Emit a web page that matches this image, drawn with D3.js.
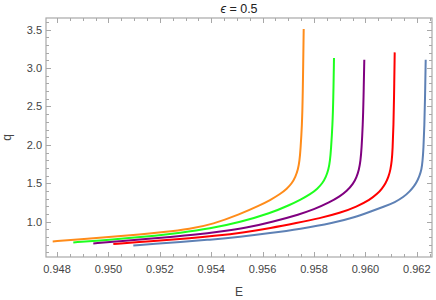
<!DOCTYPE html>
<html>
<head>
<meta charset="utf-8">
<script src="https://cdn.jsdelivr.net/npm/d3@7"></script>
<style>
  body { margin: 0; background: #fff; }
  text { font-family: "Liberation Sans", Arial, sans-serif; }
</style>
</head>
<body>
<svg id="chart"></svg>
<script>
// values, E (x) and q (y) for each curve
let orangeE = [0.947833, 0.948895, 0.950167, 0.951230, 0.952113, 0.953175, 0.954058, 0.955121, 0.955899, 0.956288, 0.956677, 0.956949, 0.957144, 0.957280, 0.957377, 0.957436, 0.957475, 0.957533, 0.957560, 0.957599];
let orangeQ = [0.7435, 0.7708, 0.8047, 0.8333, 0.8620, 0.9049, 0.9674, 1.0977, 1.2148, 1.2799, 1.3581, 1.4297, 1.5013, 1.5859, 1.6771, 1.7943, 1.9375, 2.2630, 2.5885, 3.5091];

let greenE = [0.948634, 0.949673, 0.950813, 0.951813, 0.952759, 0.953953, 0.955121, 0.956307, 0.957085, 0.957475, 0.957864, 0.958136, 0.958331, 0.958467, 0.958564, 0.958622, 0.958661, 0.958720, 0.958751, 0.958778];
let greenQ = [0.7305, 0.7552, 0.7878, 0.8177, 0.8529, 0.9089, 0.9935, 1.1107, 1.2214, 1.2865, 1.3581, 1.4297, 1.5013, 1.5859, 1.6771, 1.7943, 1.9375, 2.2630, 2.5885, 3.1315];

let purpleE = [0.949412, 0.950451, 0.951463, 0.952397, 0.953408, 0.954342, 0.955354, 0.956416, 0.957455, 0.957973, 0.958622, 0.959012, 0.959272, 0.959529, 0.959654, 0.959751, 0.959809, 0.959848, 0.959899, 0.959926, 0.959957];
let purpleQ = [0.7174, 0.7448, 0.7747, 0.8008, 0.8307, 0.8698, 0.9180, 1.0000, 1.0977, 1.1563, 1.2539, 1.3320, 1.3971, 1.4948, 1.5794, 1.6771, 1.7943, 1.9375, 2.2630, 2.5885, 3.1094];

let redE = [0.950191, 0.951230, 0.952113, 0.953175, 0.954058, 0.955354, 0.956288, 0.957327, 0.958233, 0.959012, 0.959661, 0.960179, 0.960471, 0.960646, 0.960790, 0.960899, 0.960976, 0.961027, 0.961058, 0.961093, 0.961113, 0.961140];
let redQ = [0.7096, 0.7357, 0.7578, 0.7852, 0.8112, 0.8633, 0.9154, 0.9831, 1.0456, 1.1133, 1.1953, 1.2865, 1.3646, 1.4297, 1.5013, 1.5859, 1.6771, 1.7943, 1.9375, 2.2630, 2.5885, 3.2044];

let blueE = [0.950969, 0.951813, 0.952759, 0.953953, 0.955121, 0.956288, 0.957455, 0.958751, 0.959595, 0.960179, 0.960762, 0.961152, 0.961475, 0.961735, 0.961891, 0.961996, 0.962105, 0.962183, 0.962225, 0.962257, 0.962296, 0.962319, 0.962346];
let blueQ = [0.6914, 0.7109, 0.7344, 0.7656, 0.8021, 0.8503, 0.9049, 0.9831, 1.0586, 1.1302, 1.2018, 1.2539, 1.3190, 1.3971, 1.4622, 1.5143, 1.5990, 1.6771, 1.7943, 1.9375, 2.2630, 2.5885, 3.1094];

let seriesNames = ["orange", "green", "purple", "red", "blue"];
let seriesColors = ["#ff8c1a", "#1eff1e", "#800080", "#ff0000", "#5e81b5"];

let xTicks = [0.948, 0.950, 0.952, 0.954, 0.956, 0.958, 0.960, 0.962];
let yTicks = [1.0, 1.5, 2.0, 2.5, 3.0, 3.5];

let config = {
  'svg': { 'width': 436, 'height': 300 },
  'margin': { 'top': 18, 'right': 4, 'bottom': 43, 'left': 46 },
  'plot': {}
};
config.plot.width = config.svg.width - config.margin.left - config.margin.right;
config.plot.height = config.svg.height - config.margin.top - config.margin.bottom;

let svg = d3.select("#chart")
  .attr("width", config.svg.width)
  .attr("height", config.svg.height);

let x = d3.scaleLinear()
  .domain([0.947572, 0.962591])
  .range([0, config.plot.width]);

let y = d3.scaleLinear()
  .domain([0.5404, 3.652])
  .range([config.plot.height, 0]);

let plot = svg.append("g")
  .attr("transform", translate(config.margin.left, config.margin.top));

let frameColor = "#a8a8a8";

// minor + major ticks, pointing inward on all four sides
let xMinor = d3.range(0.9475, 0.9626, 0.0005).filter(v => v >= x.domain()[0] && v <= x.domain()[1]);
let yMinor = d3.range(0.6, 3.65, 0.1);

function isMajor(v, list) {
  return list.some(t => Math.abs(t - v) < 1e-7);
}

let ticks = plot.append("g").attr("id", "ticks")
  .style("stroke", frameColor).style("stroke-width", 1);

xMinor.forEach(v => {
  let len = isMajor(v, xTicks) ? 5 : 3;
  let px = Math.round(x(v)) + 0.5;
  ticks.append("line").attr("x1", px).attr("x2", px)
    .attr("y1", config.plot.height).attr("y2", config.plot.height - len);
  ticks.append("line").attr("x1", px).attr("x2", px)
    .attr("y1", 0).attr("y2", len);
});

yMinor.forEach(v => {
  let len = isMajor(v, yTicks) ? 5 : 3;
  let py = Math.round(y(v)) + 0.5;
  ticks.append("line").attr("y1", py).attr("y2", py)
    .attr("x1", 0).attr("x2", len);
  ticks.append("line").attr("y1", py).attr("y2", py)
    .attr("x1", config.plot.width).attr("x2", config.plot.width - len);
});

// frame
plot.append("rect")
  .attr("x", 0).attr("y", 0)
  .attr("width", config.plot.width)
  .attr("height", config.plot.height)
  .style("fill", "none")
  .style("stroke", frameColor)
  .style("stroke-width", 1.2);

// tick labels
plot.append("g").selectAll("text")
  .data(xTicks)
  .enter()
  .append("text")
  .attr("x", d => x(d))
  .attr("y", config.plot.height + 16)
  .style("text-anchor", "middle")
  .style("font-size", "11px")
  .style("fill", "#444")
  .text(d => d3.format(".3f")(d));

plot.append("g").selectAll("text")
  .data(yTicks)
  .enter()
  .append("text")
  .attr("x", -4)
  .attr("y", d => y(d) + 4)
  .style("text-anchor", "end")
  .style("font-size", "11px")
  .style("fill", "#444")
  .text(d => d3.format(".1f")(d));

// curves - basis spline smooths out the reading noise
let line = d3.line()
  .x(d => x(d[0]))
  .y(d => y(d[1]))
  .curve(d3.curveBasis);

let allE = [orangeE, greenE, purpleE, redE, blueE];
let allQ = [orangeQ, greenQ, purpleQ, redQ, blueQ];

let series = seriesNames.map((name, i) => ({
  name: name,
  color: seriesColors[i],
  points: allE[i].map((e, j) => [e, allQ[i][j]])
}));

plot.append("g").attr("id", "curves")
  .selectAll("path")
  .data(series)
  .enter()
  .append("path")
  .attr("d", d => line(d.points))
  .style("fill", "none")
  .style("stroke", d => d.color)
  .style("stroke-width", 2)
  .style("stroke-linecap", "butt");

// labels
svg.append("text")
  .attr("x", config.margin.left + config.plot.width / 2)
  .attr("y", 13)
  .style("text-anchor", "middle")
  .style("font-size", "12.5px")
  .style("fill", "#222")
  .html('<tspan font-style="italic">ϵ</tspan> = 0.5');

svg.append("text")
  .attr("x", config.margin.left + config.plot.width / 2)
  .attr("y", 296)
  .style("text-anchor", "middle")
  .style("font-size", "12px")
  .style("fill", "#444")
  .text("E");

svg.append("text")
  .attr("transform", translate(11, config.margin.top + config.plot.height / 2) + " rotate(-90)")
  .style("text-anchor", "middle")
  .style("font-size", "12px")
  .style("fill", "#444")
  .text("q");

function translate(x, y) {
  return 'translate(' + x + ',' + y + ')';
}
</script>
</body>
</html>
